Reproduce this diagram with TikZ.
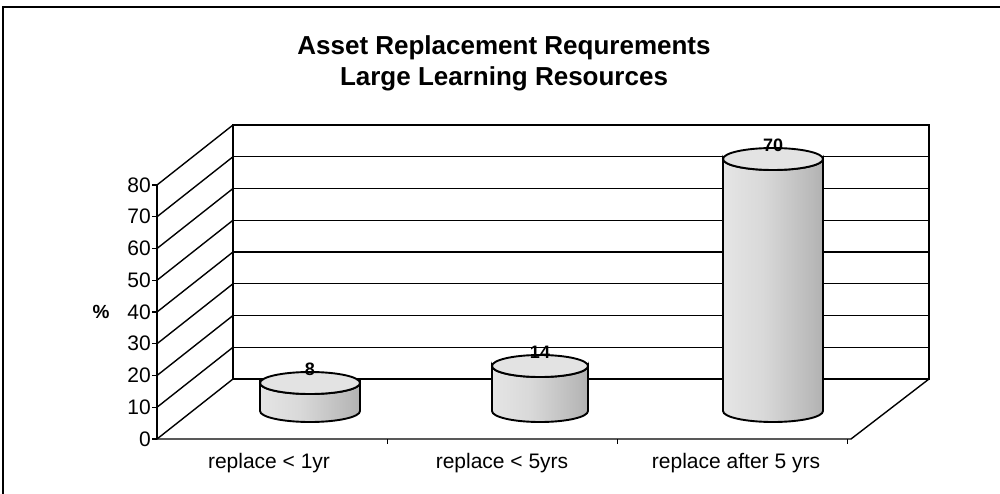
\documentclass[tikz,border=0pt]{standalone}
\usepackage{fontspec}
\setmainfont{Liberation Sans}
\pgfdeclarehorizontalshading{cylshade}{100bp}{color(0bp)=(gray!32); color(20bp)=(gray!18); color(45bp)=(gray!30); color(70bp)=(gray!55); color(88bp)=(gray!78); color(100bp)=(gray!92)}
\begin{document}
\begin{tikzpicture}[x=1pt,y=-1pt,
  grid/.style={line width=1.4pt,black},
  frame/.style={line width=1.2pt,black},
  axisline/.style={line width=2.2pt,black},
  ticklab/.style={anchor=east,font=\fontsize{21}{23}\selectfont,inner sep=0pt},
  catlab/.style={anchor=center,font=\fontsize{21}{23}\selectfont,inner sep=0pt},
  vallab/.style={anchor=center,font=\bfseries\fontsize{18}{20}\selectfont,inner sep=0pt},
  cylbody/.style={shading=cylshade,draw=black,line width=1.9pt},
  cyltop/.style={fill=gray!22,draw=black,line width=1.9pt}]
\useasboundingbox (0,0) rectangle (1000,494);
% outer frame (top and left visible)
\draw[frame] (3,494) -- (3,7) -- (1000,7);
% title
\node[font=\bfseries\fontsize{26}{31}\selectfont,align=center,anchor=center] (title) at (504,63)
  {Asset Replacement Requrements\\Large Learning Resources};
% back wall
\draw[grid] (233,125) rectangle (929,379);
\foreach \k in {1,...,7}{
  \draw[grid] (233,{379-31.75*\k}) -- (929,{379-31.75*\k});
}
% left wall diagonals
\foreach \k in {0,...,8}{
  \draw[grid] (157,{439-31.75*\k}) -- (233,{379-31.75*\k});
}
% floor
\draw[grid] (157,439) -- (851,439) -- (929,379);
\foreach \x in {387,617,847}{
  \draw[line width=1pt] (\x,439) -- (\x,444);
}
% front axis
\draw[axisline] (157,185) -- (157,439);
\foreach \k/\lab in {0/0,1/10,2/20,3/30,4/40,5/50,6/60,7/70,8/80}{
  \draw[line width=1.3pt] (152,{439-31.75*\k}) -- (157,{439-31.75*\k});
  \node[ticklab] (t\k) at (151,{439-31.75*\k}) {\lab};
}
\node[font=\bfseries\fontsize{19}{21}\selectfont,inner sep=0pt] (pct) at (101,312) {\%};
% cylinders
\foreach \n/\cx/\rx/\yt/\lab in {a/310/50/383/8, b/540/48/366/14, c/773/50/159/70}{
  \path[cylbody] (\cx-\rx,\yt) -- (\cx-\rx,411)
     arc[start angle=180,end angle=360,x radius=\rx pt,y radius=11pt]
     -- (\cx+\rx,\yt)
     arc[start angle=0,end angle=-180,x radius=\rx pt,y radius=11pt] -- cycle;
  \draw[cyltop] (\cx,\yt) ellipse[x radius=\rx pt,y radius=11pt];
  \node[vallab] (v\n) at (\cx,\yt-14) {\lab};
}
% category labels
\node[catlab] (c1) at (269,463) {replace < 1yr};
\node[catlab] (c2) at (502,463) {replace < 5yrs};
\node[catlab] (c3) at (736,463) {replace after 5 yrs};
\end{tikzpicture}
\end{document}
